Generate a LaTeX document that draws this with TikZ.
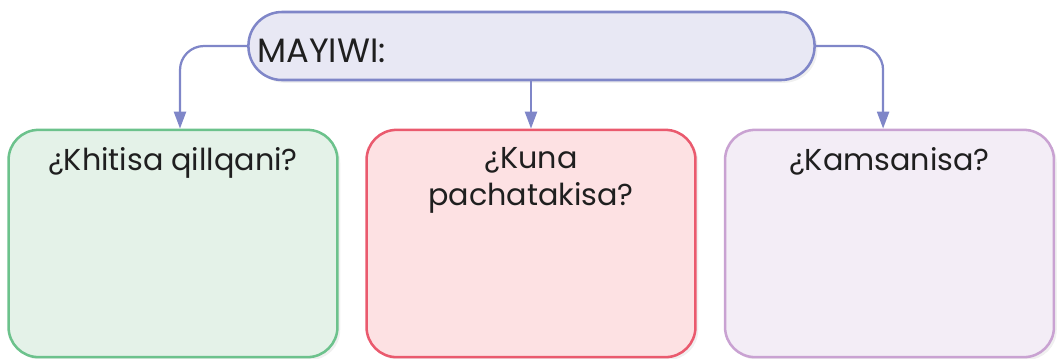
\documentclass[tikz,border=0pt]{standalone}
\usepackage{fontspec}
\setmainfont{Poppins}
\usetikzlibrary{positioning,arrows.meta,shadows}
\definecolor{linkblue}{HTML}{7F86C8}
\definecolor{topfill}{HTML}{E8E8F4}
\definecolor{greenline}{HTML}{6CC28C}
\definecolor{greenfill}{HTML}{E4F2E8}
\definecolor{redline}{HTML}{EA5A6E}
\definecolor{redfill}{HTML}{FDE1E3}
\definecolor{violetline}{HTML}{C9A2D2}
\definecolor{violetfill}{HTML}{F3EDF6}
\tikzset{
  boxshadow/.style={drop shadow={opacity=0.12, shadow xshift=2pt, shadow yshift=-2pt}},
  topbox/.style={draw=linkblue, fill=topfill, line width=1.8pt, rounded corners=0.84cm,
    minimum width=14.15cm, minimum height=1.7cm, boxshadow},
  qbox/.style={line width=1.8pt, rounded corners=0.75cm, minimum width=8.22cm,
    minimum height=5.68cm, boxshadow},
  qtext/.style={font=\fontsize{21.5}{26.5}\selectfont, align=center, text=black!88,
    anchor=north, inner sep=0pt},
  link/.style={draw=linkblue, line width=1.6pt, rounded corners=0.6cm,
    -{Triangle[width=8.5pt,length=12pt]}}
}
\begin{document}
\begin{tikzpicture}[x=0.025cm, y=-0.025cm]
\useasboundingbox (0,0) rectangle (1060,358);
% top box
\node[topbox] (mayiwi) at (531.5,46) {};
\node[font=\fontsize{24}{30}\selectfont, anchor=base west, inner sep=0pt, text=black!88] (mayiwitxt) at (257,62) {MAYIWI:};
% question boxes
\node[qbox, draw=greenline, fill=greenfill] (khiti) at (173,243.5) {};
\node[qbox, draw=redline, fill=redfill] (kuna) at (531,243.5) {};
\node[qbox, draw=violetline, fill=violetfill] (kamsa) at (889.5,243.5) {};
\node[qtext] (khititxt) at (173,147) {¿Khitisa qillqani?};
\node[qtext] (kunatxt) at (531,147) {¿Kuna\\pachatakisa?};
\node[qtext] (kamsatxt) at (889.5,147) {¿Kamsanisa?};
% links
\draw[link] (mayiwi.west) -| ([xshift=0.175cm]khiti.north);
\draw[link, rounded corners=0pt] (kuna.north |- mayiwi.south) -- (kuna.north);
\draw[link] (mayiwi.east) -| ([xshift=-0.16cm]kamsa.north);
\end{tikzpicture}
\end{document}
